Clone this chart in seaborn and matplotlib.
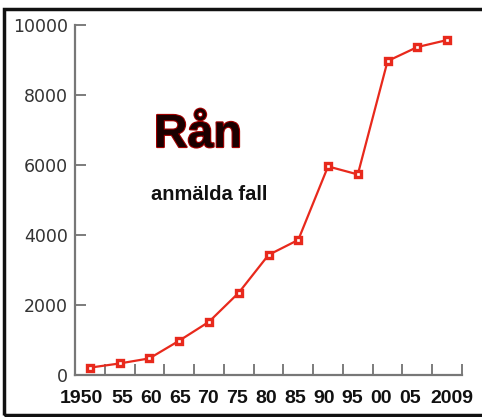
import matplotlib
matplotlib.use("Agg")
import matplotlib.pyplot as plt
import matplotlib.patheffects as pe
from matplotlib.patches import Rectangle
import seaborn as sns
import pandas as pd
import numpy as np

sns.set_theme(style="white")
plt.rcParams['font.family'] = ['DejaVu Sans']

years = ["1950", "55", "60", "65", "70", "75", "80", "85", "90", "95", "00", "05", "2009"]
cases = [210, 330, 475, 980, 1520, 2350, 3430, 3860, 5960, 5730, 8970, 9370, 9570]
y_ticks = [0, 2000, 4000, 6000, 8000, 10000]

df = pd.DataFrame({"pos": np.arange(len(years)), "cases": cases})

fig = plt.figure(figsize=(4.82, 4.17), dpi=100)
ax = fig.add_axes([75/482, 42/417, (462-75)/482, (375-25)/417])

sns.lineplot(data=df, x="pos", y="cases", ax=ax, color="#e8291c", linewidth=1.6,
             marker="s", markersize=4.8, markerfacecolor="white",
             markeredgecolor="#e8291c", markeredgewidth=2.4)

ax.set_xlim(-0.5, len(years) - 0.5)
ax.set_ylim(0, 10000)
ax.set_xlabel("")
ax.set_ylabel("")

# labels are laid out like a space-separated run of text, as in the reference
n = len(years)
label_pos = np.empty(n)
label_pos[0] = -0.28
label_pos[1:n-1] = 1.08 + 0.9674 * np.arange(n - 2)
label_pos[n-1] = 12.15
ax.set_xticks(label_pos)
ax.set_xticklabels(years, fontfamily="Liberation Sans", fontweight="bold", fontsize=14, color="#111111")
ax.set_xticks(np.arange(n) + 0.5, minor=True)
ax.tick_params(axis="x", which="major", length=0, pad=11)
ax.tick_params(axis="x", which="minor", length=8, width=1.2, direction="in", color="#666666", bottom=True)

ax.set_yticks(y_ticks)
ax.set_yticklabels([str(v) for v in y_ticks], fontsize=12.5, color="#333333")
ax.tick_params(axis="y", which="major", length=8, width=1.2, direction="in", color="#666666", left=True, pad=5)

for s in ["top", "right"]:
    ax.spines[s].set_visible(False)
for s in ["left", "bottom"]:
    ax.spines[s].set_color("#777777")
    ax.spines[s].set_linewidth(1.6)

fig.text(154/482, 1 - 147/417, "Rån", fontfamily="Liberation Sans", fontweight="bold",
         fontsize=33.5, color="#1a0000", va="baseline", ha="left",
         path_effects=[pe.withStroke(linewidth=1.6, foreground="#a00000")])
fig.text(151/482, 1 - 194/417, "anmälda fall", fontfamily="Liberation Sans", fontweight="bold",
         fontsize=14.5, color="#111111", va="center", ha="left")

fig.patches.append(Rectangle((4/482, 2/417), 1.2, (415-9)/417, transform=fig.transFigure,
                             fill=False, edgecolor="#111111", linewidth=2.5, clip_on=False))

fig.savefig("out.png", dpi=100, facecolor="white")
